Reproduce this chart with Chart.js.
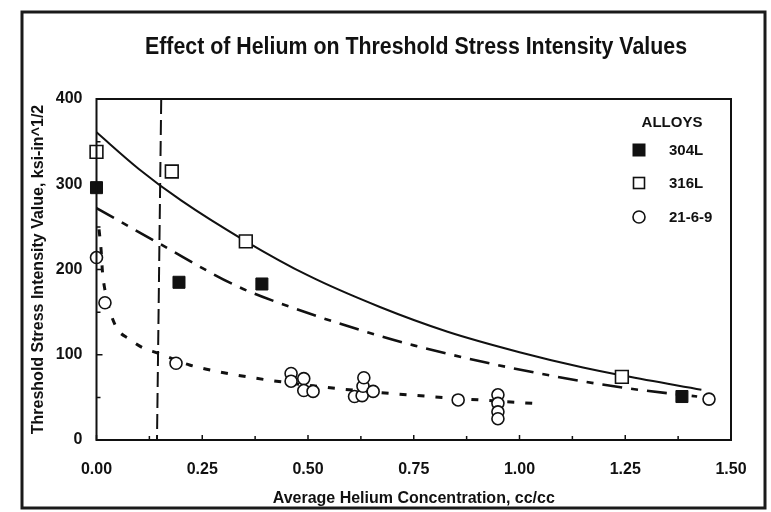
<!DOCTYPE html>
<html><head><meta charset="utf-8">
<script src="https://cdn.jsdelivr.net/npm/chart.js@4/dist/chart.umd.min.js"></script>
<style>html,body{margin:0;padding:0;background:#fff}#wrap{width:771px;height:512px;position:relative}</style>
</head><body><div id="wrap"><canvas id="c" width="771" height="512"></canvas></div>
<script>
// ---- data ----
const chartTitle = 'Effect of Helium on Threshold Stress Intensity Values';
const xTitle = 'Average Helium Concentration, cc/cc';
const yTitle = 'Threshold Stress Intensity Value, ksi-in^1/2';
const legendTitle = 'ALLOYS';
const alloys = ['304L', '316L', '21-6-9'];
const xTickLabels = ['0.00', '0.25', '0.50', '0.75', '1.00', '1.25', '1.50'];
const yTickLabels = ['0', '100', '200', '300', '400'];

const x304L = [0.0, 0.195, 0.391, 1.384];
const y304L = [296, 185, 183, 51];

const x316L = [0.0, 0.178, 0.353, 1.242];
const y316L = [338, 315, 233, 74];

const x2169 = [0.0, 0.02, 0.188, 0.46, 0.46, 0.49, 0.49, 0.512, 0.61, 0.628, 0.63, 0.632, 0.654, 0.855, 0.949, 0.949, 0.949, 0.949, 1.448];
const y2169 = [214, 161, 90, 78, 69, 72, 58, 57, 51, 52, 63, 73, 57, 47, 53, 43, 33, 25, 48];

// fitted trend curves (read point by point)
const xFit316 = [0, 0.1, 0.2, 0.35, 0.5, 0.67, 0.83, 1.0, 1.15, 1.25, 1.43];
const yFit316 = [361, 318, 281, 234, 193, 156, 127, 103, 85, 75, 59];

const xFit304 = [0, 0.15, 0.33, 0.47, 0.67, 0.75, 0.91, 1.08, 1.25, 1.42];
const yFit304 = [272, 230, 181, 154, 122, 111, 92, 75, 61, 51];

const xFit2169 = [0.006, 0.011, 0.014, 0.02, 0.044, 0.079, 0.11, 0.145, 0.22, 0.29, 0.37, 0.41, 0.576, 0.79, 1.03];
const yFit2169 = [247, 222, 198, 176, 135, 118, 108, 102, 88, 80, 73, 70, 60, 51, 43];

// vertical threshold marker line
const xThreshold = [0.153, 0.143];
const yThreshold = [400, 0];

// ---- build chart ----
const FONT = "'Liberation Sans', Arial, Helvetica, sans-serif";
const INK = '#111';
const pts = (xs, ys) => xs.map((x, i) => ({x: x, y: ys[i]}));

const markerStyles = [
  {pointStyle: 'rect', radius: 8.5, bg: INK, border: INK, bw: 1},
  {pointStyle: 'rect', radius: 9, bg: '#fff', border: INK, bw: 1.6},
  {pointStyle: 'circle', radius: 6, bg: '#fff', border: INK, bw: 1.6}
];

function markerSet(label, xs, ys, st) {
  return {type: 'scatter', label: label, data: pts(xs, ys), showLine: false, clip: false,
    pointStyle: st.pointStyle, pointRadius: st.radius, pointBackgroundColor: st.bg,
    pointBorderColor: st.border, pointBorderWidth: st.bw, pointHoverRadius: st.radius};
}
function lineSet(label, xs, ys, dash, width) {
  return {type: 'line', label: label, data: pts(xs, ys), showLine: true, fill: false, clip: 4,
    borderColor: INK, borderWidth: width, borderDash: dash, pointRadius: 0,
    cubicInterpolationMode: 'monotone', borderCapStyle: 'butt'};
}

const framePlugin = {
  id: 'frame',
  afterDraw(chart) {
    const ctx = chart.ctx, a = chart.chartArea;
    const xs = chart.scales.x, ys = chart.scales.y;
    ctx.save();
    // outer frame
    ctx.strokeStyle = '#1a1a1a'; ctx.lineWidth = 3;
    ctx.strokeRect(22, 12, 743, 496);
    // plot box
    ctx.strokeStyle = INK; ctx.lineWidth = 2;
    ctx.strokeRect(a.left, a.top, a.right - a.left, a.bottom - a.top);
    // inward ticks
    ctx.lineWidth = 1.5;
    ctx.beginPath();
    for (let v = 0; v <= 400; v += 50) {
      const p = ys.getPixelForValue(v);
      const len = (v % 100 === 0) ? 6 : 4;
      ctx.moveTo(a.left, p); ctx.lineTo(a.left + len, p);
    }
    for (let v = 0; v <= 1.5001; v += 0.125) {
      const p = xs.getPixelForValue(v);
      const len = (Math.abs(v / 0.25 - Math.round(v / 0.25)) < 1e-6) ? 5 : 4;
      ctx.moveTo(p, a.bottom); ctx.lineTo(p, a.bottom - len);
    }
    ctx.stroke();
    // title (condensed bold)
    ctx.fillStyle = INK;
    ctx.font = 'bold 23px ' + FONT;
    ctx.textBaseline = 'middle'; ctx.textAlign = 'center';
    const w = ctx.measureText(chartTitle).width;
    const sx = 542 / w;
    ctx.save();
    ctx.translate(416, 48); ctx.scale(sx, 1);
    ctx.fillText(chartTitle, 0, 0);
    ctx.restore();
    // legend
    ctx.font = 'bold 15px ' + FONT;
    ctx.textAlign = 'center';
    ctx.fillText(legendTitle, 672, 123);
    ctx.textAlign = 'left';
    const ly = [150, 183, 217];
    alloys.forEach((name, i) => {
      const st = markerStyles[i];
      ctx.lineWidth = st.bw; ctx.strokeStyle = st.border; ctx.fillStyle = st.bg;
      if (st.pointStyle === 'rect') {
        const s = i === 0 ? 6 : 5.5;
        ctx.fillRect(639 - s, ly[i] - s, 2 * s, 2 * s);
        ctx.strokeRect(639 - s, ly[i] - s, 2 * s, 2 * s);
      } else {
        ctx.beginPath(); ctx.arc(639, ly[i], 6, 0, Math.PI * 2); ctx.fill(); ctx.stroke();
      }
      ctx.fillStyle = INK;
      ctx.fillText(name, 669, ly[i] + 1);
    });
    ctx.restore();
  }
};

new Chart(document.getElementById('c'), {
  data: {
    datasets: [
      markerSet(alloys[0], x304L, y304L, markerStyles[0]),
      markerSet(alloys[1], x316L, y316L, markerStyles[1]),
      markerSet(alloys[2], x2169, y2169, markerStyles[2]),
      lineSet('316L fit', xFit316, yFit316, [], 2),
      lineSet('304L fit', xFit304, yFit304, [20, 9, 7, 9], 2.6),
      lineSet('21-6-9 fit', xFit2169, yFit2169, [7, 11], 3),
      lineSet('threshold', xThreshold, yThreshold, [15, 6], 2)
    ]
  },
  options: {
    responsive: false, animation: false, devicePixelRatio: 1,
    layout: {padding: {left: 0, right: 40, top: 99, bottom: 0}},
    plugins: {legend: {display: false}, tooltip: {enabled: false}, title: {display: false}},
    scales: {
      x: {
        type: 'linear', min: 0, max: 1.5, position: 'bottom',
        afterFit(s) { s.height = 72; },
        grid: {display: false, drawTicks: false},
        border: {display: false},
        ticks: {stepSize: 0.25, padding: 20, color: INK, maxRotation: 0, autoSkip: false,
          font: {family: FONT, size: 16, weight: 'bold'},
          callback: (v, i) => xTickLabels[i]},
        title: {display: true, text: xTitle, color: INK, padding: {top: 0, bottom: 4},
          font: {family: FONT, size: 16, weight: 'bold'}}
      },
      y: {
        type: 'linear', min: 0, max: 400, position: 'left',
        afterFit(s) { s.width = 96.5; },
        grid: {display: false, drawTicks: false},
        border: {display: false},
        ticks: {stepSize: 100, padding: 14, color: INK,
          font: {family: FONT, size: 16, weight: 'bold'},
          callback: (v, i) => yTickLabels[i]},
        title: {display: true, text: yTitle, color: INK, padding: {top: 29, bottom: 0},
          font: {family: FONT, size: 16, weight: 'bold'}}
      }
    }
  },
  plugins: [framePlugin]
});
</script></body></html>
